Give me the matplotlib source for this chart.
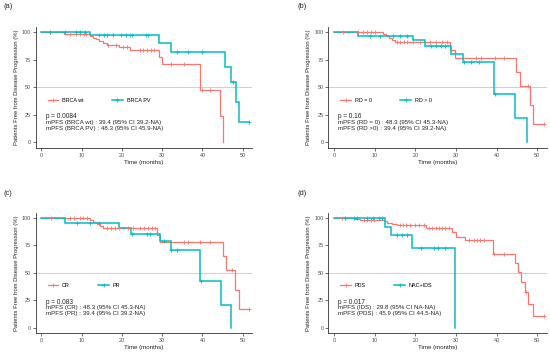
import numpy as np
import matplotlib
matplotlib.use("Agg")
import matplotlib.pyplot as plt
from matplotlib.lines import Line2D

plt.rcParams['font.family'] = ['Liberation Sans', 'DejaVu Sans']

RED = "#F8766D"
TEAL = "#00BFC4"
END_TIME = 51.6

# ---------------- Panel (a) ----------------
a_labels = ["BRCA wt", "BRCA PV"]
a_red_times = [5.7, 12.0, 12.8, 13.6, 14.4, 15.2, 16.2, 19.2, 22.0, 29.3, 30.0, 39.4, 44.3, 45.1]
a_red_surv = [98.4, 96.8, 95.2, 93.6, 92.0, 90.4, 88.8, 86.8, 84.0, 77.8, 71.2, 47.4, 23.7, 0]
a_red_cens = [2.2, 7.0, 8.6, 9.6, 10.6, 11.2, 16.6, 18.6, 20.2, 21.2, 24.4, 25.2, 26.2, 27.2, 28.0,
              32.1, 35.3, 39.8, 41.8]
a_teal_times = [12.2, 29.2, 32.3, 45.7, 47.0, 48.3, 49.0]
a_teal_surv = [97.4, 90.0, 82.3, 68.6, 54.9, 36.6, 18.3]
a_teal_cens = [2.1, 5.9, 8.6, 9.6, 10.8, 14.3, 15.6, 16.3, 17.7, 19.7, 21.0, 22.0, 22.6, 26.1, 26.5,
               33.8, 36.4, 39.9, 47.5, 51.6]
a_texts = ["p = 0.0084", "mPFS (BRCA wt) : 39.4 (95% CI 39.2-NA)", "mPFS (BRCA PV) : 48.3 (95% CI 45.9-NA)"]

# ---------------- Panel (b) ----------------
b_labels = ["RD = 0", "RD > 0"]
b_red_times = [12.0, 12.8, 13.5, 14.2, 15.0, 28.6, 29.7, 44.8, 45.8, 48.3, 49.0]
b_red_surv = [98.2, 96.4, 94.6, 92.8, 91.0, 84.0, 77.0, 64.2, 51.3, 34.2, 17.1]
b_red_cens = [2.2, 6.0, 7.2, 8.0, 9.0, 10.2, 15.5, 16.3, 17.3, 18.0, 19.4, 21.2, 23.7, 25.0, 26.5,
              27.9, 35.0, 36.2, 39.6, 41.9, 47.6, 51.6]
b_teal_times = [6.0, 19.4, 22.4, 28.8, 31.8, 39.4, 44.6, 47.4]
b_teal_surv = [96.4, 92.6, 87.5, 80.5, 73.2, 43.9, 22.0, 0]
b_teal_cens = [8.8, 11.2, 14.6, 16.3, 18.0, 23.8, 25.2, 26.3, 27.2, 31.9, 33.7, 35.6, 39.7]
b_texts = ["p = 0.16", "mPFS (RD = 0) : 48.3 (95% CI 45.3-NA)", "mPFS (RD >0) : 39.4 (95% CI 39.2-NA)"]

# ---------------- Panel (c) ----------------
c_labels = ["CR", "PR"]
c_red_times = [12.1, 12.9, 13.7, 14.5, 15.3, 28.8, 29.4, 45.1, 45.8, 48.2, 49.0]
c_red_surv = [98.2, 96.4, 94.6, 92.8, 91.0, 84.6, 78.4, 65.3, 52.2, 34.8, 17.4]
c_red_cens = [2.5, 7.1, 8.2, 9.5, 10.4, 11.4, 16.3, 17.3, 18.4, 19.4, 21.4, 22.8, 24.5, 25.5, 26.5,
              27.5, 28.3, 35.3, 36.3, 39.5, 41.9, 47.3, 51.6]
c_teal_times = [5.9, 19.2, 22.3, 29.4, 32.1, 39.4, 44.5, 47.2]
c_teal_surv = [95.7, 91.0, 85.5, 78.6, 71.2, 42.4, 21.2, 0]
c_teal_cens = [8.8, 12.2, 14.2, 22.4, 26.2, 27.0, 30.4, 32.3, 33.7, 39.7]
c_texts = ["p = 0.083", "mPFS (CR) : 48.3 (95% CI 45.3-NA)", "mPFS (PR) : 39.4 (95% CI 39.2-NA)"]

# ---------------- Panel (d) ----------------
d_labels = ["PDS", "NAC+IDS"]
d_red_times = [4.8, 6.5, 12.3, 13.0, 14.3, 15.5, 22.6, 28.9, 30.1, 32.2, 39.0, 44.5, 45.2, 45.9,
               46.9, 47.8, 49.0]
d_red_surv = [99.0, 98.0, 96.9, 95.8, 94.7, 93.5, 90.8, 87.0, 83.0, 79.7, 66.9, 59.0, 50.4, 41.8,
              33.0, 22.0, 11.0]
d_red_cens = [2.0, 7.5, 8.2, 9.0, 9.8, 16.2, 17.0, 17.8, 18.6, 19.8, 21.0, 22.2, 23.4, 24.2, 25.0,
              25.8, 26.6, 27.4, 28.2, 33.2, 34.4, 35.2, 36.0, 36.8, 39.3, 41.8, 47.3, 51.6]
d_teal_times = [12.6, 14.1, 19.1, 29.8]
d_teal_surv = [91.7, 84.7, 72.6, 0]
d_teal_cens = [2.8, 4.8, 5.7, 8.0, 9.7, 11.0, 11.8, 15.4, 16.8, 18.0, 21.4, 24.6, 25.6, 27.4]
d_texts = ["p = 0.017", "mPFS (IDS) : 29.8 (95% CI NA-NA)", "mPFS (PDS) : 45.9 (95% CI 44.5-NA)"]

panel_tags = ["(a)", "(b)", "(c)", "(d)"]
x_ticks = [0, 10, 20, 30, 40, 50]
y_ticks = [0, 25, 50, 75, 100]
x_label = "Time (months)"
y_label = "Patients Free from Disease Progression (%)"

W, H = 550, 356
fig = plt.figure(figsize=(W / 100, H / 100), dpi=100)


def draw_curve(ax, times, surv, cens, color, lw):
    times = list(times)
    surv = list(surv)
    if surv[-1] == 0:
        xs = [0] + times
        ys = [100] + surv
    else:
        xs = [0] + times + [END_TIME]
        ys = [100] + surv + [surv[-1]]
    ax.step(xs, ys, where='post', color=color, lw=lw, solid_joinstyle='miter', zorder=3)
    t_arr = np.array(times)
    s_arr = np.array(surv)
    cy = []
    for c in cens:
        k = np.searchsorted(t_arr, c, side='right')
        cy.append(100.0 if k == 0 else s_arr[k - 1])
    ax.plot(cens, cy, ls='none', marker='+', ms=3.2, mew=0.6, color=color, zorder=4)


def panel(rect_px, tag, tag_px, labels, red, teal, texts):
    l, t, r, b = rect_px
    ax = fig.add_axes([l / W, 1 - b / H, (r - l) / W, (b - t) / H])
    ax.set_xlim(-1.4, 52.3)
    ax.set_ylim(-5, 105)
    ax.axhline(50, color='#c8c8c8', lw=0.6, zorder=1)
    draw_curve(ax, *red, RED, 0.9)
    draw_curve(ax, *teal, TEAL, 1.1)
    for s in ['top', 'right']:
        ax.spines[s].set_visible(False)
    for s in ['left', 'bottom']:
        ax.spines[s].set_color('#333333')
        ax.spines[s].set_linewidth(0.6)
    ax.set_xticks(x_ticks)
    ax.set_yticks(y_ticks)
    ax.tick_params(length=2, width=0.5, color='#333333', labelsize=3.9,
                   labelcolor='#4d4d4d', pad=1.5)
    ax.set_xlabel(x_label, fontsize=4.4, color='#222222', labelpad=1.5)
    ax.set_ylabel(y_label, fontsize=4.2, color='#222222', labelpad=2)
    handles = [Line2D([], [], color=RED, lw=0.9, marker='+', ms=3.2, mew=0.6),
               Line2D([], [], color=TEAL, lw=1.1, marker='+', ms=3.2, mew=0.6)]
    ax.legend(handles, labels, ncol=2, frameon=False, loc='center left',
              bbox_to_anchor=(0.045, 0.395), fontsize=3.9, handlelength=2.0,
              handletextpad=0.7, columnspacing=5.2, borderaxespad=0)
    ax.text(1.1, 23.3, texts[0], fontsize=4.7, color='#222222', va='center', ha='left')
    ax.text(1.1, 18.4, texts[1], fontsize=4.4, color='#222222', va='center', ha='left')
    ax.text(1.1, 12.6, texts[2], fontsize=4.4, color='#222222', va='center', ha='left')
    fig.text(tag_px[0] / W, 1 - tag_px[1] / H, tag, fontsize=5.4, color='#222222',
             ha='left', va='center')
    return ax


panel((35.7, 26.8, 252, 148), panel_tags[0], (3, 7),
      a_labels, (a_red_times, a_red_surv, a_red_cens), (a_teal_times, a_teal_surv, a_teal_cens), a_texts)
panel((328.3, 26.8, 546.7, 148), panel_tags[1], (297, 7),
      b_labels, (b_red_times, b_red_surv, b_red_cens), (b_teal_times, b_teal_surv, b_teal_cens), b_texts)
panel((35.7, 212.5, 252, 333.3), panel_tags[2], (3, 193),
      c_labels, (c_red_times, c_red_surv, c_red_cens), (c_teal_times, c_teal_surv, c_teal_cens), c_texts)
panel((328.3, 212.5, 546.7, 333.3), panel_tags[3], (297, 193),
      d_labels, (d_red_times, d_red_surv, d_red_cens), (d_teal_times, d_teal_surv, d_teal_cens), d_texts)

fig.savefig("out.png", dpi=100)
